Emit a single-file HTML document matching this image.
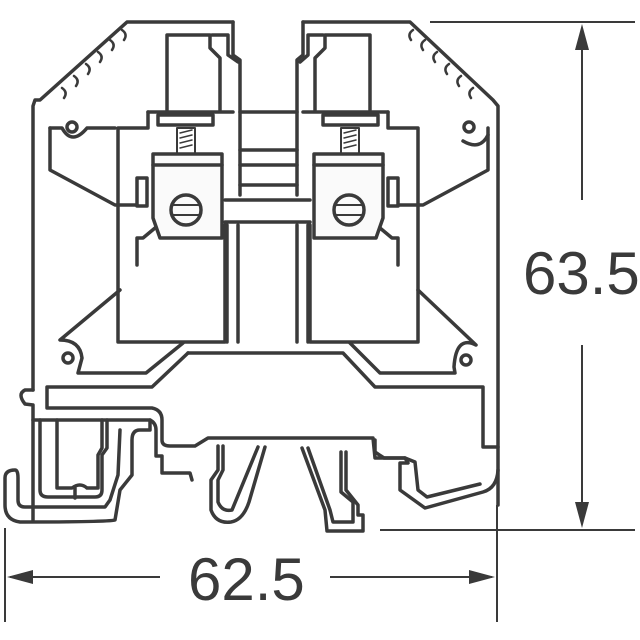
<!DOCTYPE html>
<html><head><style>html,body{margin:0;padding:0;background:#fff}svg{display:block}</style></head>
<body>
<svg width="640" height="640" viewBox="0 0 640 640" xmlns="http://www.w3.org/2000/svg">
<g fill="none" stroke="#3a3a3a" stroke-width="3.5" stroke-linejoin="round" stroke-linecap="round">
<path d="M233,22 L127,22 L40,100 L35,100 L33,106 L33,390"/>
<path d="M233,22 L233,55 L240,60 L240,195"/>
<path d="M303,22 L410,22 L493,100 L498,106 L498,505"/>
<path d="M303,22 L303,55 L297,60 L297,195"/>
<g stroke-width="2.5">
<path d="M122,30 q6,4 2,10 M110,40 q6,4 2,10 M98,52 q6,4 2,10 M86,64 q6,4 2,10 M74,76 q6,4 2,10 M62,88 q6,4 2,10"/>
<path d="M413,30 q-6,4 -2,10 M425,40 q-6,4 -2,10 M437,52 q-6,4 -2,10 M449,64 q-6,4 -2,10 M461,76 q-6,4 -2,10 M473,88 q-6,4 -2,10"/>
</g>
<path d="M167,110 L167,35 L210,35 L210,48 L220,58 L220,110"/>
<path d="M212,35 L228,35 L228,55 L238,62"/>
<path d="M370,110 L370,35 L325,35 L325,48 L315,58 L315,110"/>
<path d="M323,35 L308,35 L308,55 L300,62"/>
<path d="M148,112 L148,128 L118,128 L118,342 L225,342 L225,225"/>
<path d="M388,112 L388,128 L418,128 L418,342 L310,342 L310,225"/>
<path d="M148,112 L233,112 M303,112 L388,112"/>
<rect x="158" y="115" width="55" height="10"/>
<rect x="323" y="115" width="55" height="10"/>
<rect x="177" y="128" width="18" height="26" stroke-width="2"/>
<rect x="341" y="128" width="18" height="26" stroke-width="2"/>
<path d="M180,133 l12,-3 M180,138 l12,-3 M180,143 l12,-3 M180,148 l12,-3 M344,133 l12,-3 M344,138 l12,-3 M344,143 l12,-3 M344,148 l12,-3" stroke-width="1.5"/>
<path d="M153,165 L153,154 L222,154 L222,238 L160,238 L153,218 Z" fill="#fafafa"/>
<path d="M153,165 L222,165"/>
<path d="M383,165 L383,154 L314,154 L314,238 L376,238 L383,218 Z" fill="#fafafa"/>
<path d="M314,165 L383,165"/>
<circle cx="186" cy="210" r="15"/><path d="M172,205 L200,205 M172,215 L200,215" stroke-width="2"/>
<circle cx="349" cy="210" r="15"/><path d="M335,205 L363,205 M335,215 L363,215" stroke-width="2"/>
<rect x="137" y="178" width="10" height="28"/>
<rect x="388" y="178" width="10" height="28"/>
<path d="M155,228 L143,238 L137,238 L137,265"/>
<path d="M380,228 L392,238 L398,238 L398,265"/>
<path d="M225,200 L310,200 M225,222 L310,222"/>
<path d="M240,112 L297,112 M240,150 L297,150 M240,165 L297,165 M240,185 L297,185"/>
<path d="M227,225 L227,342 M238,225 L238,342 M297,225 L297,342 M308,225 L308,342"/>
<path d="M50,128 L50,170 L115,205 L137,205"/>
<path d="M50,128 L62,128 q10,18 25,0 L115,128"/>
<circle cx="72" cy="127" r="5"/>
<path d="M120,290 L60,340 q20,0 22,18 L78,373 L146,373 L183,343"/>
<circle cx="68" cy="358" r="5"/>
<path d="M488,128 L488,170 L423,205 L398,205"/>
<path d="M488,135 q-8,16 -25,6 "/>
<circle cx="469" cy="127" r="5"/>
<path d="M418,290 L476,345 q-20,-10 -22,22 L455,373 L380,373 L350,343"/>
<circle cx="466" cy="360" r="5"/>
<path d="M188,353 L343,353 L375,387 L483,387 L483,447 L498,447"/>
<path d="M188,353 L152,387 L47,387 L47,408 L152,408 q10,2 10,12 L162,440 q0,6 8,6 L195,446 L208,438 L373,438 L375,458 L405,458"/>
<path d="M33,390 L25,390 q-8,4 0,14 L33,405 L33,420 L33,520"/>
<path d="M33,420 L150,420 q6,3 6,10 L156,456 L162,456 L162,473 L190,473 L192,480"/>
<path d="M150,420 L150,430 L140,430 q-8,0 -8,10 L132,475 L120,490 L115,520 Q108,522 20,522 Q5,520 5,505 L5,478 Q5,470 15,470 Q18,470 18,478 L18,500 Q18,507 25,507 L105,507 L110,500 L118,475 L120,430"/>
<path d="M40,420 L40,490 Q40,497 48,497 L95,497 Q102,497 102,490 L102,455 L107,448 L107,420"/>
<path d="M57,420 L57,488 L72,488 q8,-6 15,0 L98,488 L98,455 L102,448 L102,420"/>
<path d="M75,488 l0,10"/>
<path d="M218,446 L218,470 L211,480 L211,510 q5,14 20,12 q12,-2 18,-20 L265,447"/>
<path d="M223,446 L223,470 L218,480 L218,502 q4,10 14,8 L258,447"/>
<path d="M302,448 L325,510 L327,531 L363,531 L363,515 L358,515 L358,505 L346,490 L346,452"/>
<path d="M308,448 L330,510 L333,522 L353,522 L353,502 L341,492 L341,452"/>
<path d="M375,440 L375,452 L384,458 L405,458 L408,463 L400,463 L400,490 L425,508 L483,492 Q497,488 498,470"/>
<path d="M405,458 L415,462 L418,490 L427,497 L480,484"/>
</g>
<g stroke="#3a3a3a" stroke-width="2" fill="#3a3a3a">
<line x1="430" y1="22" x2="635" y2="22"/>
<line x1="380" y1="530" x2="635" y2="530"/>
<line x1="582" y1="30" x2="582" y2="200"/>
<line x1="582" y1="345" x2="582" y2="522"/>
<polygon points="582,24 575,50 589,50" stroke="none"/>
<polygon points="582,528 575,502 589,502" stroke="none"/>
<line x1="5" y1="528" x2="5" y2="622"/>
<line x1="497" y1="505" x2="497" y2="622"/>
<line x1="10" y1="577" x2="160" y2="577"/>
<line x1="330" y1="577" x2="492" y2="577"/>
<polygon points="7,577 33,570 33,584" stroke="none"/>
<polygon points="495,577 469,570 469,584" stroke="none"/>
</g>
<g font-family="Liberation Sans, sans-serif" font-size="60" fill="#3a3a3a">
<text x="523" y="294">63.5</text>
<text x="188" y="600">62.5</text>
</g>
</svg>
</body></html>
